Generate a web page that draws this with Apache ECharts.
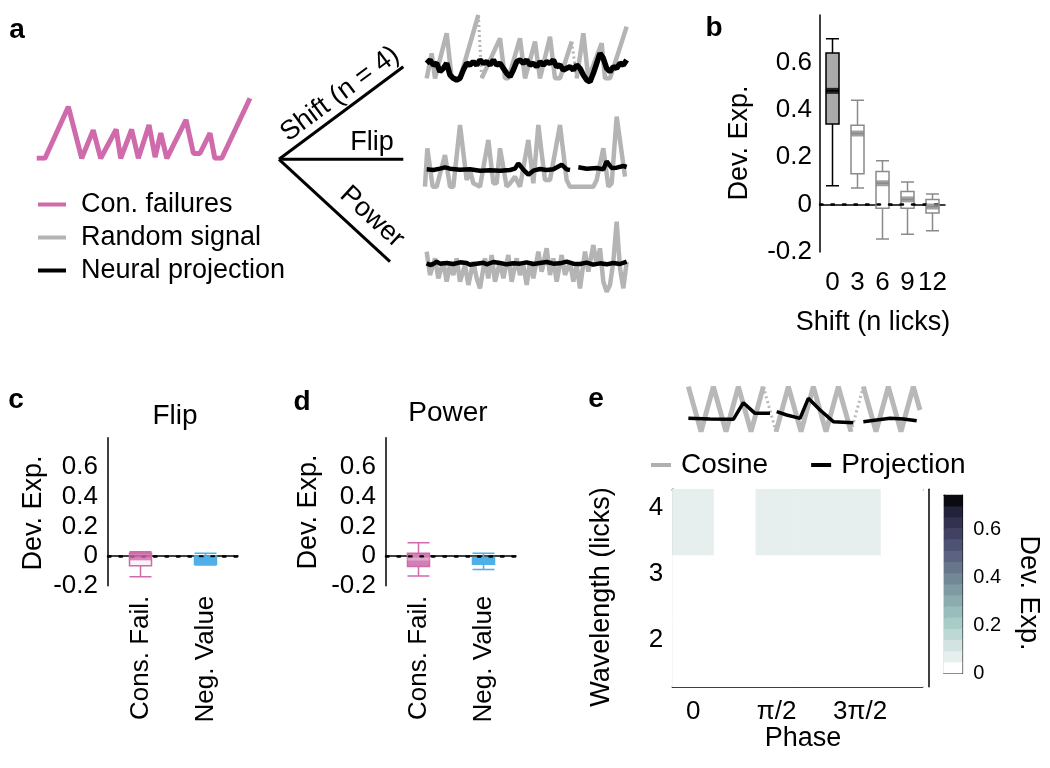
<!DOCTYPE html>
<html><head><meta charset="utf-8">
<script src="https://cdn.jsdelivr.net/npm/echarts@6/dist/echarts.min.js"></script>
<style>html,body{margin:0;padding:0;background:#fff}#chart{width:1050px;height:768px}</style>
</head><body><div id="chart"></div>
<script>
// ================= DATA =================
// panel a: consecutive-failures signal  [time, value]
const conFailures = [[0,0],[1.56,0],[5.93,0.86],[8.44,0],[10.6,0.47],[12.0,0],[14.9,0.48],[15.75,0],[17.8,0.48],[19.06,0],[21.07,0.555],[22.2,0.02],[23.26,0.42],[24.4,0],[28.0,0.64],[29.4,0.08],[30.6,0.08],[32.5,0.42],[33.4,0],[34.7,0],[40,1.0]];
// panel a: Shift trace
const shiftRandom = [[2,3.5],[3.5,11],[4.5,3.5],[8,17],[9.5,3.5],[12,3.5],[17.5,22.5],[17.6,'-'],[18.5,3.5],[19,3.5],[24,15.5],[25.5,3.5],[26.5,3.5],[30,15.5],[31.5,3.5],[34.5,14.5],[36,3.5],[39,16],[40.5,3.5],[42,3.5],[45.5,14.5],[46,'-'],[47,3.5],[49,17],[50.5,3.5],[54.5,14],[55.5,3.5],[57,3.5],[62,19]];
const shiftRandomGap = [[17.5,22.5],[18.5,3.5],[18.6,'-'],[45.5,14.5],[47,3.5]];
const shiftProj = [[2,8],[3,9],[4,7.5],[5,8],[6,5.5],[7,6.5],[8,8],[9,4.5],[10,3.5],[11,3],[12,3.5],[13,6],[14,8],[15,7.5],[16,8.5],[17,7.5],[18,9],[19,8],[20,8.5],[21,7.5],[22,9],[23,7.5],[24,8],[25,6.5],[26,5],[27,4],[28,6],[29,8.5],[30,9],[31,8],[32,9],[33,7.5],[34,8],[35,7],[36,8.5],[37,7.5],[38,8.5],[39,8],[40,9],[41,7],[42,7.5],[43,6],[44,6.5],[45,7],[46,6],[47,7.5],[48,6.5],[49,4.5],[50,3],[51,2.5],[52,5],[53,8],[54,11],[55,9.5],[56,6.5],[57,5.5],[58,7],[59,6.5],[60,8],[61,7.5],[62,9]];
// panel a: Flip trace
const flipRandom = [[1.5,1],[2.2,12.5],[3.8,1],[5,1],[7.5,10.5],[9,1],[10,1],[12,19.5],[14,3],[15,6],[16,2],[18,1],[20.5,15],[22,2],[23,2],[24,12.5],[26,1],[27,2],[28.5,4],[30,1],[32.5,15],[34,2],[35.5,19.5],[36.5,11],[37.5,3],[39,3],[42,19.5],[44,3],[45,1],[46,1],[49,1],[52,1],[53,3],[55,12.5],[56.5,1],[57.5,2],[59,22],[61.5,4]];
const flipProj = [[2,6.2],[4,6],[6,6.4],[7.5,6.8],[9,6.4],[12,6.1],[15,6.2],[18,5.8],[21,5.9],[24,5.8],[27,6],[28.5,6.4],[29.5,8],[31,6.1],[32.5,4.6],[34,5.8],[36,6.3],[38,6],[40,6.2],[42.5,7.6],[44,6.2],[45,6],[46,'-'],[47.5,6.8],[50,6.4],[53,6.6],[55,6.2],[56,8.6],[57.5,6.6],[59,6.7],[61,7.2],[62,6.9]];
// panel a: Power trace
const powerRandom = [[2,13],[3,6],[4.5,11],[5.5,5],[7,10],[8,4],[9,9],[10,6],[11,11],[12,4],[13.5,9],[14.5,3],[16,10],[17,5],[18,2],[19.5,11],[20.5,5],[21.5,12],[22.5,4],[24,10],[25,5],[26.5,12],[27.5,4],[29,11],[30,6],[31,9],[32,3],[33,10],[34,5],[35.5,13],[36.5,7],[38,14],[39,6],[40,11],[41,4],[42.5,12],[43.5,6],[45,10],[46,4],[47,9],[48,2],[49.5,13],[50.5,7],[52,15],[53,9],[54,14],[55,4],[56,1],[57,3],[58,10],[59,22],[60,8],[61,2],[62,10]];
const powerProj = [[2,9.5],[3,9],[4,9.3],[5,10],[6,9.4],[8,9.6],[10,9.3],[12,9.8],[14,9.6],[15,9.1],[17,9.4],[19,9.7],[20,9.2],[22,9.9],[24,9.6],[26,9.2],[28,9.5],[30,9.4],[32,9.8],[34,9.3],[36,9.6],[38,9.9],[40,9.4],[42,9.5],[44,10],[46,9.4],[48,9.3],[50,9.7],[52,9.1],[54,9.5],[56,9.2],[58,9.6],[60,9.3],[62,10]];
// panel b: box stats [min, Q1, median, Q3, max]
const shiftCats = ['0','3','6','9','12'];
const shiftBoxes = [[0.08,0.34,0.48,0.64,0.70],[0.07,0.13,0.30,0.335,0.44],[-0.145,-0.015,0.09,0.14,0.185],[-0.125,-0.015,0.022,0.055,0.095],[-0.11,-0.035,-0.008,0.022,0.045]];
const devTicks = [-0.2,0,0.2,0.4,0.6];
// panels c, d
const ctrlCats = ['Cons. Fail.','Neg. Value'];
const flipBoxes = [[-0.14,-0.065,-0.005,0.02,0.03],[-0.06,-0.055,-0.03,0.0,0.02]];
const powerBoxes = [[-0.135,-0.07,-0.02,0.02,0.09],[-0.09,-0.055,-0.03,-0.01,0.02]];
// panel e: example cosine + projection
const cosineSolid = [[35.5,15],[39.3,1.5],[43,15],[46.8,1.5],[50.5,15],[54.3,1.5],[58,15],[58.1,'-'],[61.8,1.5],[65.5,15],[69.3,1.5],[73,15],[76.8,1.5],[80.5,15],[84.3,1.5],[84.4,'-'],[88,15],[91.8,1.5],[95.5,15],[99.3,1.5],[103,15],[105,8]];
const cosineGap = [[58,15],[61.8,1.5],[61.9,'-'],[84.3,1.5],[88,15]];
const cosineProj = [[35.5,5.5],[42,5.3],[49,5.2],[52,10.2],[55.5,7],[60,7],[61,'-'],[62,7.5],[65,6.5],[69,5.5],[71.5,11.5],[75,8],[79,4.5],[85,4.2],[86,'-'],[88,4.5],[92,5],[96,5.5],[100,5.3],[104,4.8]];
// panel e: heatmap
const phaseLabels = ['0','π/4','π/2','π','3π/2','7π/4'];
const wavelengthRows = ['2','3','4'];
const wavelengthTicks = [2,3,4];
const heatValues = [ // rows bottom -> top, columns by phase
  [0.01,0.01,0.01,0.01,0.01,0.01],
  [0.01,0.01,0.01,0.01,0.01,0.01],
  [0.06,0.01,0.06,0.06,0.06,0.01]
];
const cbarMax = 0.745;
const cbarTicks = [0,0.2,0.4,0.6];

// ================= STYLE =================
const FONT = '"Liberation Sans", Arial, sans-serif';
const PINK = '#cf6aab', BLUE = '#4fb0e8', GRAY = '#b4b4b4', BOXGRAY = '#8a8a8a';
const cmap = ['#ffffff','#e6efed','#d2e3e1','#bed8d5','#a9ccc9','#98bdbc','#8cacaf','#7f9aa3','#738897','#67768b','#5b6380','#4e5273','#414263','#323250','#22223a','#0a0a10'];
const step = cbarMax / cmap.length;
const cbarLevels = cmap.map((c,i)=>String(i));

const axLine = {show:true, lineStyle:{color:'#000', width:1.5}};
const hidden = (gi, min, max) => ({type:'value', gridIndex:gi, min, max, show:false});
const zeroLine = {silent:true, symbol:['none','none'], label:{show:false}, lineStyle:{color:'#000', type:[2.5,9], width:2.5, cap:'round'}, data:[{yAxis:0}]};

const chart = echarts.init(document.getElementById('chart'), null, {renderer:'canvas'});

const boxItem = (v, fill, border, bw) => ({value:v, itemStyle:{color:fill, borderColor:border, borderWidth:bw}});

const option = {
  animation:false,
  textStyle:{fontFamily:FONT, color:'#000'},
  title:[
    {text:'Flip', left:170, top:397, textAlign:'center', textStyle:{fontSize:28, fontWeight:'normal', color:'#000', fontFamily:FONT}},
    {text:'Power', left:443, top:394, textAlign:'center', textStyle:{fontSize:28, fontWeight:'normal', color:'#000', fontFamily:FONT}}
  ],
  legend:[
    {data:['Con. failures','Random signal','Neural projection'], orient:'vertical', left:33, top:186, icon:'rect', itemWidth:28, itemHeight:4, itemGap:6, selectedMode:false,
     textStyle:{fontSize:27, color:'#000', fontFamily:FONT, padding:[0,0,0,10]}},
    {data:['Cosine','Projection'], orient:'horizontal', left:646, top:446, icon:'rect', itemWidth:20, itemHeight:4, itemGap:43, selectedMode:false,
     textStyle:{fontSize:28, color:'#000', fontFamily:FONT, padding:[0,0,0,5]}}
  ],
  grid:[
    {left:36.7, top:98.3, width:213.3, height:60},      // 0 pink signal
    {left:420, top:10, width:220, height:80},          // 1 shift trace
    {left:420, top:110, width:220, height:80},         // 2 flip trace
    {left:420, top:215, width:220, height:80},         // 3 power trace
    {left:820, top:15, width:125, height:237},         // 4 panel b
    {left:108, top:437.7, width:130, height:148},      // 5 panel c
    {left:386, top:437.7, width:130, height:148},      // 6 panel d
    {left:686.7, top:380, width:233.3, height:56.7},   // 7 e trace
    {left:672.3, top:489.3, width:250.4, height:197.4},// 8 heatmap
    {left:944, top:495, width:18.3, height:178.3}      // 9 colorbar
  ],
  xAxis:[
    hidden(0,0,40), hidden(1,0,66), hidden(2,0,66), hidden(3,0,66),
    {type:'category', gridIndex:4, data:shiftCats, axisLine:axLine,
     axisTick:{alignWithLabel:true, length:5, lineStyle:{color:'#000',width:1.5}},
     axisLabel:{interval:0, fontSize:26, color:'#000', margin:18, fontFamily:FONT}},
    {type:'category', gridIndex:5, data:ctrlCats, axisLine:axLine,
     axisTick:{alignWithLabel:true, length:4, lineStyle:{color:'#000',width:1.2}},
     axisLabel:{interval:0, rotate:90, fontSize:26, color:'#000', margin:10, fontFamily:FONT}},
    {type:'category', gridIndex:6, data:ctrlCats, axisLine:axLine,
     axisTick:{alignWithLabel:true, length:4, lineStyle:{color:'#000',width:1.2}},
     axisLabel:{interval:0, rotate:90, fontSize:26, color:'#000', margin:10, fontFamily:FONT}},
    hidden(7,35,105),
    {type:'category', gridIndex:8, data:phaseLabels, axisLine:axLine,
     axisTick:{interval:1, alignWithLabel:true, inside:true, length:4, lineStyle:{color:'#000',width:1.2}},
     axisLabel:{interval:1, fontSize:26, color:'#000', margin:12, fontFamily:FONT}},
    {type:'category', gridIndex:8, data:phaseLabels, position:'top', axisLine:axLine, axisTick:{show:false}, axisLabel:{show:false}},
    {type:'category', gridIndex:9, data:['Dev. Exp.'], axisLine:{show:true, lineStyle:{color:'#000',width:1.2}}, axisTick:{show:false}, axisLabel:{show:false}},
    {type:'category', gridIndex:9, data:['Dev. Exp.'], position:'top', axisLine:{show:true, lineStyle:{color:'#000',width:1.2}}, axisTick:{show:false}, axisLabel:{show:false}}
  ],
  yAxis:[
    hidden(0,0,1), hidden(1,0,24), hidden(2,0,24), hidden(3,0,24),
    {type:'value', gridIndex:4, min:-0.2, max:0.8, interval:0.2, axisLine:axLine, splitLine:{show:false},
     axisTick:{customValues:devTicks, inside:true, length:4, lineStyle:{color:'#000',width:1.2}},
     axisLabel:{customValues:devTicks, fontSize:26, color:'#000', margin:8, fontFamily:FONT}},
    {type:'value', gridIndex:5, min:-0.2, max:0.8, interval:0.2, axisLine:axLine, splitLine:{show:false},
     axisTick:{customValues:devTicks, inside:true, length:4, lineStyle:{color:'#000',width:1.2}},
     axisLabel:{customValues:devTicks, fontSize:26, color:'#000', margin:10, fontFamily:FONT}},
    {type:'value', gridIndex:6, min:-0.2, max:0.8, interval:0.2, axisLine:axLine, splitLine:{show:false},
     axisTick:{customValues:devTicks, inside:true, length:4, lineStyle:{color:'#000',width:1.2}},
     axisLabel:{customValues:devTicks, fontSize:26, color:'#000', margin:10, fontFamily:FONT}},
    hidden(7,0,17),
    {type:'category', gridIndex:8, data:wavelengthRows, show:false},
    {type:'value', gridIndex:8, min:1.28, max:4.29, position:'left', axisLine:axLine, splitLine:{show:false},
     axisTick:{customValues:wavelengthTicks, inside:true, length:4, lineStyle:{color:'#000',width:1.2}},
     axisLabel:{customValues:wavelengthTicks, fontSize:26, color:'#000', margin:9, fontFamily:FONT}},
    {type:'value', gridIndex:8, min:0, max:1, position:'right', offset:6, axisLine:axLine, splitLine:{show:false}, axisTick:{show:false}, axisLabel:{show:false}},
    {type:'category', gridIndex:9, data:cbarLevels, position:'left', axisLine:{show:true, lineStyle:{color:'#000',width:1.2}}, axisTick:{show:false}, axisLabel:{show:false}},
    {type:'value', gridIndex:9, min:0, max:cbarMax, position:'right', axisLine:{show:true, lineStyle:{color:'#000',width:1.2}}, splitLine:{show:false},
     axisTick:{customValues:[0.2,0.4,0.6], inside:true, length:4, lineStyle:{color:'#000',width:1}},
     axisLabel:{customValues:cbarTicks, fontSize:20, color:'#000', margin:11, fontFamily:FONT}}
  ],
  visualMap:[{
    type:'piecewise', show:false, seriesIndex:[19,20], dimension:2,
    pieces: cmap.map((c,i)=> i===cmap.length-1 ? {gte:i*step, lte:cbarMax+1, color:c} : {gte:i*step, lt:(i+1)*step, color:c})
  }],
  series:[
    // 0 pink
    {type:'line', name:'Con. failures', xAxisIndex:0, yAxisIndex:0, data:conFailures, showSymbol:false, color:PINK, lineStyle:{width:5, color:PINK}},
    // 1-3 shift
    {type:'line', name:'Random signal', xAxisIndex:1, yAxisIndex:1, data:shiftRandom, showSymbol:false, color:GRAY, lineStyle:{width:4.5, color:GRAY}, z:2},
    {type:'line', name:'gap1', xAxisIndex:1, yAxisIndex:1, data:shiftRandomGap, showSymbol:false, lineStyle:{width:3, color:GRAY, type:[2,3]}, z:2},
    {type:'line', name:'Neural projection', xAxisIndex:1, yAxisIndex:1, data:shiftProj, showSymbol:false, color:'#000', lineStyle:{width:5.5, color:'#000'}, z:3},
    // 4-5 flip
    {type:'line', name:'Random signal', xAxisIndex:2, yAxisIndex:2, data:flipRandom, showSymbol:false, color:GRAY, lineStyle:{width:4.5, color:GRAY}, z:2},
    {type:'line', name:'Neural projection', xAxisIndex:2, yAxisIndex:2, data:flipProj, showSymbol:false, color:'#000', lineStyle:{width:4.5, color:'#000'}, z:3},
    // 6-7 power
    {type:'line', name:'Random signal', xAxisIndex:3, yAxisIndex:3, data:powerRandom, showSymbol:false, color:GRAY, lineStyle:{width:4.5, color:GRAY}, z:2},
    {type:'line', name:'Neural projection', xAxisIndex:3, yAxisIndex:3, data:powerProj, showSymbol:false, color:'#000', lineStyle:{width:4.5, color:'#000'}, z:3},
    // 8 panel b boxes
    {type:'boxplot', name:'shift', xAxisIndex:4, yAxisIndex:4, boxWidth:[13,13],
     data: shiftBoxes.map((v,i)=> i===0 ? boxItem(v,'#aaaaaa','#000',1.5) : boxItem(v,'#ffffff',BOXGRAY,1.5)),
     markLine:zeroLine},
    // 9 panel b medians
    {type:'scatter', name:'shiftMed', xAxisIndex:4, yAxisIndex:4, symbol:'rect', symbolSize:[13,6], z:5,
     data: shiftBoxes.map((v,i)=>({value:v[2], itemStyle:{color: i===0 ? '#000' : BOXGRAY}}))},
    // 10 panel c
    {type:'boxplot', name:'flip', xAxisIndex:5, yAxisIndex:5, boxWidth:[22,22],
     data:[boxItem(flipBoxes[0],'rgba(207,106,171,0.08)',PINK,1.5), boxItem(flipBoxes[1],BLUE,BLUE,1.5)],
     markLine:zeroLine},
    // 11 panel c medians
    {type:'scatter', name:'flipMed', xAxisIndex:5, yAxisIndex:5, symbol:'rect', symbolSize:[22,7], z:5,
     data:[{value:flipBoxes[0][2], itemStyle:{color:PINK}}, {value:flipBoxes[1][2], itemStyle:{color:BLUE}}]},
    // 12 panel d
    {type:'boxplot', name:'power', xAxisIndex:6, yAxisIndex:6, boxWidth:[22,22],
     data:[boxItem(powerBoxes[0],'#d27fb6',PINK,1.5), boxItem(powerBoxes[1],BLUE,BLUE,1.5)],
     markLine:zeroLine},
    // 13 panel d medians
    {type:'scatter', name:'powerMed', xAxisIndex:6, yAxisIndex:6, symbol:'rect', symbolSize:[22,3], z:5,
     data:[{value:powerBoxes[0][2], itemStyle:{color:'#e6b3d4'}}, {value:powerBoxes[1][2], itemStyle:{color:BLUE}}]},
    // 14-16 e trace
    {type:'line', name:'Cosine', xAxisIndex:7, yAxisIndex:7, data:cosineSolid, showSymbol:false, color:'#b0b0b0', lineStyle:{width:5, color:'#b8b8b8'}, z:2},
    {type:'line', name:'cosGap', xAxisIndex:7, yAxisIndex:7, data:cosineGap, showSymbol:false, lineStyle:{width:3, color:'#b8b8b8', type:[2,3]}, z:2},
    {type:'line', name:'Projection', xAxisIndex:7, yAxisIndex:7, data:cosineProj, showSymbol:false, color:'#000', lineStyle:{width:3.5, color:'#000'}, z:3},
    // 17, 18 placeholders (none)
    {type:'line', name:'none1', xAxisIndex:7, yAxisIndex:7, data:[]},
    {type:'line', name:'none2', xAxisIndex:7, yAxisIndex:7, data:[]},
    // 19 heatmap
    {type:'heatmap', name:'heat', xAxisIndex:8, yAxisIndex:8,
     data: heatValues.flatMap((row,r)=>row.map((v,c)=>[c,r,v]))},
    // 20 colorbar
    {type:'heatmap', name:'cbar', xAxisIndex:10, yAxisIndex:11,
     data: cmap.map((c,i)=>[0,i,(i+0.5)*step])}
  ],
  graphic:[
    // panel letters
    {type:'text', x:17, y:30, style:{text:'a', font:'bold 28px '+FONT, fill:'#000', align:'center', verticalAlign:'middle'}},
    {type:'text', x:714, y:28, style:{text:'b', font:'bold 28px '+FONT, fill:'#000', align:'center', verticalAlign:'middle'}},
    {type:'text', x:16, y:400, style:{text:'c', font:'bold 28px '+FONT, fill:'#000', align:'center', verticalAlign:'middle'}},
    {type:'text', x:302, y:402, style:{text:'d', font:'bold 28px '+FONT, fill:'#000', align:'center', verticalAlign:'middle'}},
    {type:'text', x:596, y:399, style:{text:'e', font:'bold 28px '+FONT, fill:'#000', align:'center', verticalAlign:'middle'}},
    // schematic tree
    {type:'line', shape:{x1:279, y1:159.3, x2:403.3, y2:66.7}, style:{stroke:'#000', lineWidth:3}},
    {type:'line', shape:{x1:279, y1:159.3, x2:403.3, y2:159.3}, style:{stroke:'#000', lineWidth:3}},
    {type:'line', shape:{x1:279, y1:159.3, x2:390, y2:261.7}, style:{stroke:'#000', lineWidth:3}},
    {type:'text', x:340, y:94, rotation:0.64, style:{text:'Shift (n = 4)', font:'27px '+FONT, fill:'#000', align:'center', verticalAlign:'middle'}},
    {type:'text', x:372, y:143, style:{text:'Flip', font:'27px '+FONT, fill:'#000', align:'center', verticalAlign:'middle'}},
    {type:'text', x:372, y:217, rotation:-0.745, style:{text:'Power', font:'27px '+FONT, fill:'#000', align:'center', verticalAlign:'middle'}},
    // axis names
    {type:'text', x:740, y:143, rotation:Math.PI/2, style:{text:'Dev. Exp.', font:'27px '+FONT, fill:'#000', align:'center', verticalAlign:'middle'}},
    {type:'text', x:873, y:323, style:{text:'Shift (n licks)', font:'27px '+FONT, fill:'#000', align:'center', verticalAlign:'middle'}},
    {type:'text', x:33.5, y:513, rotation:Math.PI/2, style:{text:'Dev. Exp.', font:'27px '+FONT, fill:'#000', align:'center', verticalAlign:'middle'}},
    {type:'text', x:308.5, y:512, rotation:Math.PI/2, style:{text:'Dev. Exp.', font:'27px '+FONT, fill:'#000', align:'center', verticalAlign:'middle'}},
    {type:'text', x:602, y:597, rotation:Math.PI/2, style:{text:'Wavelength (licks)', font:'27px '+FONT, fill:'#000', align:'center', verticalAlign:'middle'}},
    {type:'text', x:803, y:739, style:{text:'Phase', font:'27px '+FONT, fill:'#000', align:'center', verticalAlign:'middle'}},
    {type:'text', x:1028, y:593, rotation:-Math.PI/2, style:{text:'Dev. Exp.', font:'27px '+FONT, fill:'#000', align:'center', verticalAlign:'middle'}}
  ]
};
chart.setOption(option);
</script>
</body></html>
